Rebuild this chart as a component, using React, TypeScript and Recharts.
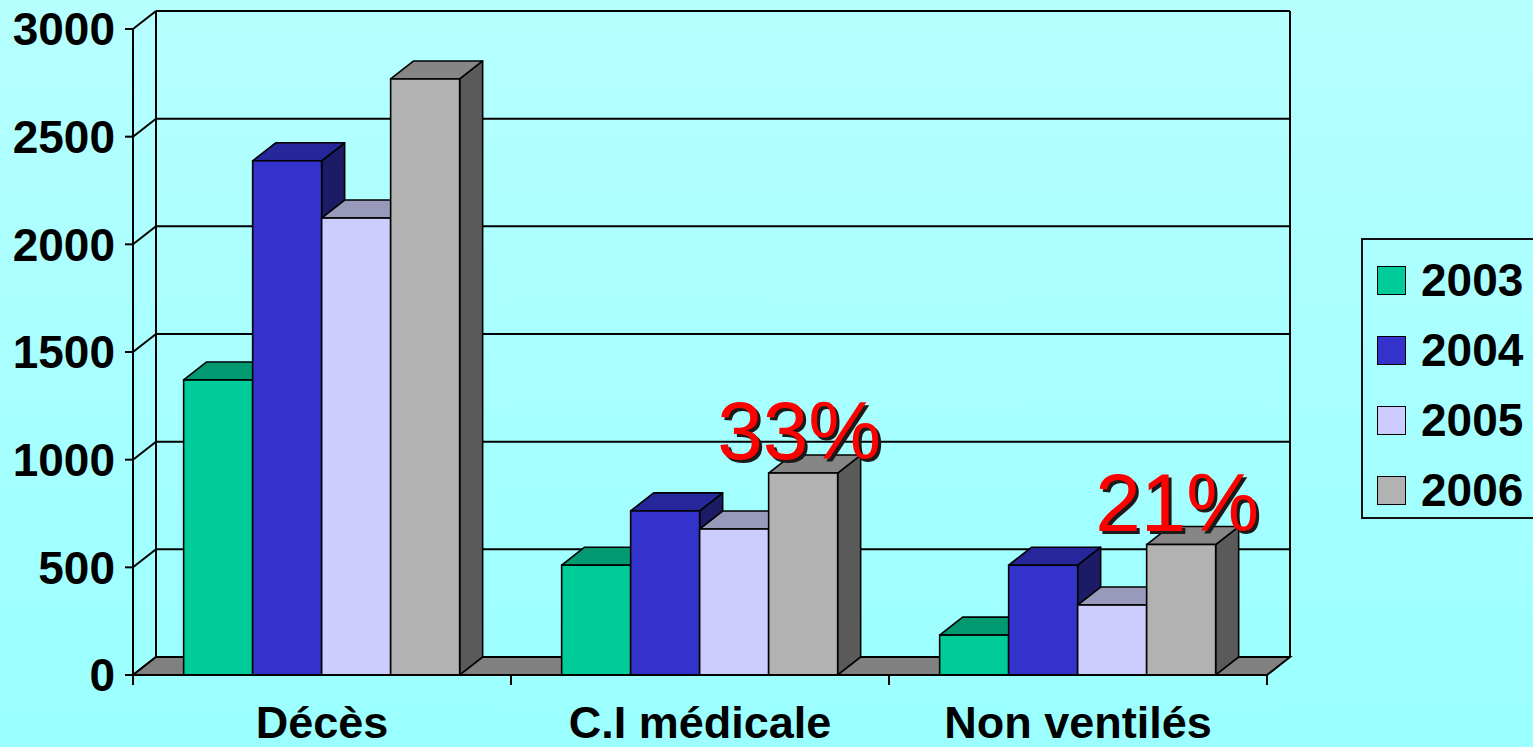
import { BarChart, Bar, XAxis, YAxis, CartesianGrid, Legend, LabelList } from 'recharts';

const categories = ['Décès', 'C.I médicale', 'Non ventilés'];
const years = ['2003', '2004', '2005', '2006'];
const values2003 = [1370, 510, 185];
const values2004 = [2388, 762, 510];
const values2005 = [2122, 678, 325];
const values2006 = [2768, 938, 606];
const growthLabels = ['', '33%', '21%'];
const yTicks = [0, 500, 1000, 1500, 2000, 2500, 3000];

const FONT = '"Liberation Sans", Arial, sans-serif';

// layout
const WIDTH = 1533;
const HEIGHT = 747;
const PLOT_LEFT = 133;
const PLOT_RIGHT = 1267;
const PLOT_TOP = 29;
const PLOT_BOTTOM = 675;
const Y_AXIS_W = 120;
const X_AXIS_H = 60;
const BAND = (PLOT_RIGHT - PLOT_LEFT) / categories.length;
// 3d depth offset
const DX = 23;
const DY = 18;

const SERIES = [
  { key: 'y2003', name: years[0], front: '#00CC99', top: '#009970', side: '#00664B' },
  { key: 'y2004', name: years[1], front: '#3333CC', top: '#27279C', side: '#1C1C66' },
  { key: 'y2005', name: years[2], front: '#CCCCFF', top: '#9999BB', side: '#66667F' },
  { key: 'y2006', name: years[3], front: '#B2B2B2', top: '#868686', side: '#5A5A5A' },
];

const data = categories.map((name, i) => ({
  name,
  y2003: values2003[i],
  y2004: values2004[i],
  y2005: values2005[i],
  y2006: values2006[i],
  growth: growthLabels[i],
}));

function Bar3D(props: any) {
  const { x, y, width: w, height: h, fill, top, side } = props;
  if (!w || h == null) return null;
  const sw = 1.6;
  return (
    <g>
      <polygon
        points={`${x + w},${y} ${x + w + DX},${y - DY} ${x + w + DX},${y + h - DY} ${x + w},${y + h}`}
        fill={side}
        stroke="#000"
        strokeWidth={sw}
        strokeLinejoin="round"
      />
      <polygon
        points={`${x},${y} ${x + DX},${y - DY} ${x + w + DX},${y - DY} ${x + w},${y}`}
        fill={top}
        stroke="#000"
        strokeWidth={sw}
        strokeLinejoin="round"
      />
      <rect x={x} y={y} width={w} height={h} fill={fill} stroke="#000" strokeWidth={sw} />
    </g>
  );
}

// back wall grid line plus its diagonal on the left wall
const backGridLine = (p: any) => {
  const { x1, y1, x2, key } = p;
  return (
    <g key={key}>
      <line x1={x1} y1={y1} x2={x1 + DX} y2={y1 - DY} stroke="#000" strokeWidth={2} />
      <line x1={x1 + DX} y1={y1 - DY} x2={x2 + DX} y2={y1 - DY} stroke="#000" strokeWidth={2} />
    </g>
  );
};

function CategoryTick(props: any) {
  const { x, y, payload, index } = props;
  const last = index === categories.length - 1;
  return (
    <g>
      <line x1={x - BAND / 2} y1={y - 10} x2={x - BAND / 2} y2={y} stroke="#000" strokeWidth={2} />
      {last && <line x1={x + BAND / 2} y1={y - 10} x2={x + BAND / 2} y2={y} stroke="#000" strokeWidth={2} />}
      <text x={x} y={y + 53} textAnchor="middle" fontFamily={FONT} fontWeight={700} fontSize={45} fill="#000">
        {payload.value}
      </text>
    </g>
  );
}

function GrowthLabel(props: any) {
  const { x, y, width, value } = props;
  if (!value) return null;
  const cx = x + width / 2 - 4;
  const by = y - 14;
  const common = {
    textAnchor: 'middle' as const,
    fontFamily: FONT,
    fontSize: 82,
    textLength: 164,
    lengthAdjust: 'spacingAndGlyphs',
  };
  return (
    <g>
      <text x={cx + 3} y={by + 3} fill="#1a1a1a" {...common}>{value}</text>
      <text x={cx} y={by} fill="#FF0000" {...common}>{value}</text>
    </g>
  );
}

function LegendBox() {
  return (
    <div
      style={{
        width: 190,
        height: 281,
        boxSizing: 'border-box',
        border: '2px solid #111',
        position: 'relative',
        fontFamily: FONT,
      }}
    >
      {SERIES.map((s, i) => (
        <div key={s.key} style={{ position: 'absolute', left: 14, top: 23 + i * 70, height: 34, display: 'flex', alignItems: 'center' }}>
          <div style={{ width: 29, height: 29, background: s.front, border: '1.5px solid #000', boxSizing: 'border-box' }} />
          <span style={{ marginLeft: 15, fontSize: 46, fontWeight: 700, color: '#000', lineHeight: '34px' }}>{s.name}</span>
        </div>
      ))}
    </div>
  );
}

export default function App() {
  return (
    <div
      style={{
        width: WIDTH,
        height: HEIGHT,
        position: 'relative',
        overflow: 'hidden',
        background: 'linear-gradient(to bottom, #B6FFFF 0%, #A8FFFF 50%, #9BFFFF 100%)',
      }}
    >
      <style>{'body{margin:0}'}</style>
      <BarChart
        width={WIDTH}
        height={HEIGHT}
        data={data}
        margin={{
          top: PLOT_TOP,
          right: WIDTH - PLOT_RIGHT,
          bottom: HEIGHT - PLOT_BOTTOM - X_AXIS_H,
          left: PLOT_LEFT - Y_AXIS_W,
        }}
        barCategoryGap="13.4%"
        barGap={0}
      >
        {/* floor */}
        <polygon
          points={`${PLOT_LEFT},${PLOT_BOTTOM} ${PLOT_LEFT + DX},${PLOT_BOTTOM - DY} ${PLOT_RIGHT + DX},${PLOT_BOTTOM - DY} ${PLOT_RIGHT},${PLOT_BOTTOM}`}
          fill="#808080"
          stroke="#000"
          strokeWidth={2}
        />
        <CartesianGrid vertical={false} horizontal={backGridLine} />
        {/* back wall edges */}
        <line x1={PLOT_LEFT + DX} y1={PLOT_TOP - DY} x2={PLOT_LEFT + DX} y2={PLOT_BOTTOM - DY} stroke="#000" strokeWidth={2} />
        <line x1={PLOT_RIGHT + DX} y1={PLOT_TOP - DY} x2={PLOT_RIGHT + DX} y2={PLOT_BOTTOM - DY} stroke="#000" strokeWidth={2} />
        <XAxis
          dataKey="name"
          height={X_AXIS_H}
          axisLine={{ stroke: '#000', strokeWidth: 2 }}
          tickLine={false}
          tickSize={10}
          tickMargin={0}
          tick={<CategoryTick />}
          interval={0}
        />
        <YAxis
          width={Y_AXIS_W}
          domain={[0, 3000]}
          ticks={yTicks}
          allowDataOverflow
          axisLine={{ stroke: '#000', strokeWidth: 2 }}
          tickLine={{ stroke: '#000', strokeWidth: 2 }}
          tickSize={8}
          tickMargin={10}
          tick={{ fill: '#000', fontSize: 46, fontWeight: 700, fontFamily: FONT }}
        />
        {SERIES.map((s) => (
          <Bar
            key={s.key}
            dataKey={s.key}
            name={s.name}
            fill={s.front}
            isAnimationActive={false}
            shape={(p: any) => <Bar3D {...p} top={s.top} side={s.side} />}
          >
            {s.key === 'y2006' && <LabelList dataKey="growth" content={<GrowthLabel />} />}
          </Bar>
        ))}
        <Legend
          layout="vertical"
          align="center"
          verticalAlign="middle"
          content={() => <LegendBox />}
          wrapperStyle={{ position: 'absolute', left: 1361, top: 238, width: 190, height: 281 }}
        />
      </BarChart>
    </div>
  );
}
